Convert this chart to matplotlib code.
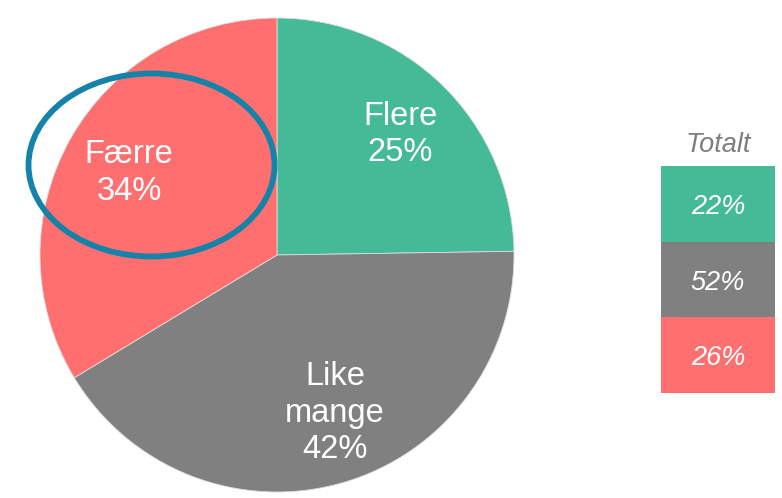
import matplotlib
matplotlib.use("Agg")
import matplotlib.pyplot as plt
from matplotlib.patches import Ellipse, Rectangle

plt.rcParams['font.family'] = ['Liberation Sans', 'DejaVu Sans']

# Slice data (clockwise from 12 o'clock)
categories = ["Flere", "Like mange", "Færre"]
shares = [25, 42, 34]
colors = ["#44BA96", "#808080", "#FF6F6F"]

# Overall distribution shown in the side column
total_title = "Totalt"
total_values = [22, 52, 26]

W, H = 782, 498
fig = plt.figure(figsize=(W / 100, H / 100), dpi=100)
ax = fig.add_axes([0, 0, 1, 1])
ax.set_axis_off()

cx, cy, r = 277, H - 255, 237
ax.pie(shares, colors=colors, startangle=90, counterclock=False,
       center=(cx, cy), radius=r,
       wedgeprops=dict(linewidth=0.6, edgecolor="#dddddd"))

# Slice labels
label_pos = {
    "Flere": (400, 134.5),
    "Like mange": (335, 413),
    "Færre": (129, 173),
}
for name, val in zip(categories, shares):
    x, y = label_pos[name]
    text = name.replace(" ", "\n") + f"\n{val}%"
    ax.text(x, H - y, text, ha="center", va="center", color="white",
            fontsize=23.5, linespacing=1.22)

# Highlight ring around "Færre"
ax.add_patch(Ellipse((151.5, H - 165), 246, 183, fill=False,
                     edgecolor="#1482A9", linewidth=4.2, zorder=5))

# Side column with overall shares
ax.text(718, H - 145, total_title, ha="center", va="center", color="#7f7f7f",
        fontsize=19.5, style="italic")
bx, bw, bh, btop = 661, 114, 75.7, 166
for i, (val, col) in enumerate(zip(total_values, colors)):
    y0 = btop + i * bh
    ax.add_patch(Rectangle((bx, H - y0 - bh), bw, bh, facecolor=col,
                           edgecolor="none"))
    ax.text(bx + bw / 2, H - y0 - bh / 2 - 3, f"{val}%", ha="center",
            va="center", color="white", fontsize=19.5, style="italic")

ax.set_xlim(0, W)
ax.set_ylim(0, H)
ax.set_aspect("auto")

fig.savefig("out.png", dpi=100, facecolor="white")
